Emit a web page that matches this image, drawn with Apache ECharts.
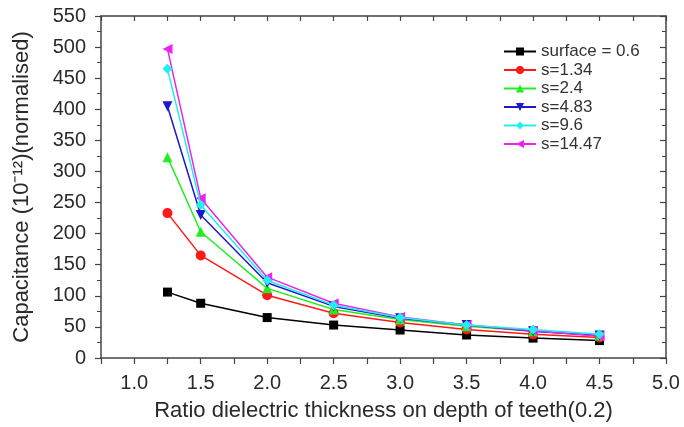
<!DOCTYPE html>
<html>
<head>
<meta charset="utf-8">
<script src="https://cdn.jsdelivr.net/npm/echarts@6/dist/echarts.min.js"></script>
<style>html,body{margin:0;padding:0;background:#fff}#c{width:684px;height:427px}</style>
</head>
<body>
<div id="c"></div>
<script>
var xValues = [1.25, 1.5, 2.0, 2.5, 3.0, 3.5, 4.0, 4.5];
var seriesNames = ['surface = 0.6', 's=1.34', 's=2.4', 's=4.83', 's=9.6', 's=14.47'];
var surface06 = [106, 88, 65, 53, 45, 37, 32, 28];
var s134 = [233, 165, 101, 72, 57, 46, 38, 33];
var s24 = [323, 203, 112, 78, 62, 51, 43, 36];
var s483 = [405, 230, 121, 83, 64, 53, 43, 36];
var s96 = [465, 246, 125, 85, 65, 53, 46, 38];
var s1447 = [497, 257, 130, 88, 66, 53, 44, 35];
var xTicks = [1.0, 1.5, 2.0, 2.5, 3.0, 3.5, 4.0, 4.5, 5.0];
var yTicks = [0, 50, 100, 150, 200, 250, 300, 350, 400, 450, 500, 550];

var allValues = [surface06, s134, s24, s483, s96, s1447];
var colors = ['#000000', '#ff1a1a', '#22ee22', '#1a1acc', '#22eeee', '#ee22ee'];
var symbols = ['rect', 'circle', 'triangle', 'triangle', 'diamond', 'triangle'];
var rotates = [0, 0, 0, 180, 0, 90];
var sizes = [9, 10, 10, 10, 10, 10];

function pairs(v) { return xValues.map(function (x, i) { return [x, v[i]]; }); }

var font = 'Liberation Sans, Arial, Helvetica, sans-serif';
var axisColor = '#444';
var textColor = '#2a2a2a';

var chart = echarts.init(document.getElementById('c'), null, {renderer: 'canvas'});
chart.setOption({
  animation: false,
  backgroundColor: '#fff',
  grid: {left: 101, right: 18, top: 16, bottom: 69, containLabel: false, outerBoundsMode: 'none'},
  legend: {
    data: seriesNames,
    orient: 'vertical',
    left: 498, top: 38,
    itemWidth: 32, itemHeight: 10, itemGap: 1.5,
    textStyle: {fontFamily: font, fontSize: 17, lineHeight: 16, color: '#333'}
  },
  xAxis: [{
    type: 'value', min: 0.75, max: 5.0, interval: 0.25,
    name: 'Ratio dielectric thickness on depth of teeth(0.2)',
    nameLocation: 'middle', nameGap: 42,
    nameTextStyle: {fontFamily: font, fontSize: 22, color: textColor},
    axisLine: {show: true, onZero: false, lineStyle: {color: axisColor, width: 1.5}},
    axisTick: {show: true, inside: false, length: 6, lineStyle: {color: axisColor, width: 1.2}},
    axisLabel: {
      fontFamily: font, fontSize: 20, color: textColor, margin: 15,
      formatter: function (v) {
        var r = Math.round(v * 100) / 100;
        return xTicks.indexOf(r) >= 0 ? r.toFixed(1) : '';
      }
    },
    splitLine: {show: false}
  }, {
    type: 'value', position: 'top', min: 0.75, max: 5.0, interval: 0.25,
    axisLine: {show: true, onZero: false, lineStyle: {color: axisColor, width: 1.5}},
    axisTick: {show: true, inside: true, length: 5, lineStyle: {color: axisColor, width: 1.2}},
    axisLabel: {show: false}, splitLine: {show: false}
  }],
  yAxis: [{
    type: 'value', min: 0, max: 550, interval: 50,
    name: 'Capacitance (10\u207B\u00B9\u00B2)(normalised)',
    nameLocation: 'middle', nameGap: 68, nameRotate: 90,
    nameTextStyle: {fontFamily: font, fontSize: 22, color: textColor},
    axisLine: {show: true, onZero: false, lineStyle: {color: axisColor, width: 1.5}},
    axisTick: {show: true, inside: false, length: 6, lineStyle: {color: axisColor, width: 1.2}},
    minorTick: {show: true, splitNumber: 2, length: 4, lineStyle: {color: axisColor, width: 1}},
    axisLabel: {
      fontFamily: font, fontSize: 20, color: textColor, margin: 15,
      formatter: function (v) { return yTicks.indexOf(v) >= 0 ? String(v) : ''; }
    },
    splitLine: {show: false}
  }, {
    type: 'value', position: 'right', min: 0, max: 550, interval: 50,
    axisLine: {show: true, onZero: false, lineStyle: {color: axisColor, width: 1.5}},
    axisTick: {show: true, inside: true, length: 6, lineStyle: {color: axisColor, width: 1.2}},
    minorTick: {show: true, splitNumber: 2, length: 4, lineStyle: {color: axisColor, width: 1}},
    axisLabel: {show: false}, splitLine: {show: false}
  }],
  series: seriesNames.map(function (name, i) {
    return {
      name: name, type: 'line', data: pairs(allValues[i]),
      xAxisIndex: 0, yAxisIndex: 0,
      symbol: symbols[i], symbolSize: sizes[i], symbolRotate: rotates[i],
      showAllSymbol: true,
      lineStyle: {color: colors[i], width: 1.5},
      itemStyle: {color: colors[i], borderWidth: 0},
      z: i === 4 ? 3 : 2
    };
  })
});
</script>
</body>
</html>
